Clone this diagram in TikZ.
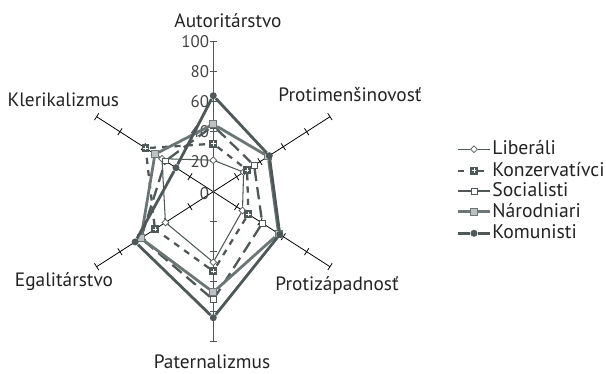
\documentclass[tikz,border=0pt]{standalone}
\usepackage{fontspec}
\setmainfont{PT Sans}
\usetikzlibrary{shapes.geometric, positioning, calc}
\definecolor{chartgray}{RGB}{78,88,88}
\definecolor{chartlight}{RGB}{108,118,118}
\definecolor{labeltext}{RGB}{35,35,35}

\begin{document}
\begin{tikzpicture}[
    x=0.02694cm, y=0.03cm,
    axisline/.style={black, line width=0.45pt},
    mainaxis/.style={chartgray, line width=0.9pt},
    tickmark/.style={black, line width=0.45pt},
    ticklabel/.style={font=\fontsize{9.6}{11}\selectfont, text=labeltext!85, anchor=east, inner sep=0.5pt},
    catlabel/.style={font=\fontsize{11}{13}\selectfont, text=labeltext, inner sep=0pt},
    legtext/.style={font=\fontsize{11.2}{13}\selectfont, text=labeltext, anchor=west, inner sep=0pt, text height=1.5ex, text depth=0.25ex},
    lib/.style={chartgray, line width=0.6pt},
    kon/.style={chartgray, line width=1.3pt, dash pattern=on 3.5pt off 3.5pt},
    soc/.style={chartgray, line width=1.3pt, dash pattern=on 7pt off 3.5pt},
    nar/.style={chartlight, line width=1.6pt},
    kom/.style={chartgray, line width=1.6pt},
    libmark/.style={diamond, draw=chartgray, fill=white, line width=0.4pt, inner sep=0pt, minimum size=4pt},
    konmark/.style={rectangle, fill=chartgray, inner sep=0pt, minimum size=4.4pt,
        path picture={\draw[white, line width=0.5pt]
            ([xshift=-1.3pt]path picture bounding box.center) -- ([xshift=1.3pt]path picture bounding box.center)
            ([yshift=-1.3pt]path picture bounding box.center) -- ([yshift=1.3pt]path picture bounding box.center);}},
    socmark/.style={rectangle, draw=chartgray, fill=white, line width=0.5pt, inner sep=0pt, minimum size=3.4pt},
    narmark/.style={rectangle, draw=chartlight, fill=chartlight!45, line width=0.6pt, inner sep=0pt, minimum size=3.8pt},
    kommark/.style={circle, fill=chartgray, inner sep=0pt, minimum size=4pt}
]
\useasboundingbox (-4.266cm,-3.646cm) rectangle (7.854cm,3.834cm);

% axes
\coordinate (O) at (0,0);
\coordinate (aut) at (90:100);
\coordinate (prm) at (30:100);
\coordinate (prz) at (-30:100);
\coordinate (pat) at (-90:100);
\coordinate (ega) at (210:100);
\coordinate (kle) at (150:100);
\draw[axisline] (O) -- (prm);
\draw[axisline] (O) -- (prz);
\draw[axisline] (O) -- (ega);
\draw[axisline] (O) -- (kle);
\draw[mainaxis] (pat) -- (aut);
\foreach \a in {30,-30,210,150}
  \foreach \v in {20,40,60,80,100}
    \draw[tickmark] ($(\a:\v)!0.08cm!90:(O)$) -- ($(\a:\v)!0.08cm!-90:(O)$);
\foreach \v in {20,40,60,80,100} {
  \draw[mainaxis] ([xshift=-0.07cm]90:\v) -- ([xshift=0.08cm]90:\v);
  \draw[mainaxis] ([xshift=-0.07cm]-90:\v) -- ([xshift=0.07cm]-90:\v);
}

% scale labels
\node[ticklabel] (t0) at ([xshift=-0.06cm]90:-1) {0};
\node[ticklabel] (t20) at ([xshift=-0.06cm]90:20) {20};
\node[ticklabel] (t40) at ([xshift=-0.06cm]90:40) {40};
\node[ticklabel] (t60) at ([xshift=-0.06cm]90:60) {60};
\node[ticklabel] (t80) at ([xshift=-0.06cm]90:80) {80};
\node[ticklabel] (t100) at ([xshift=-0.06cm]90:100) {100};

% category labels
\node[catlabel] (autlab) at (0.294cm,3.42cm) {Autoritárstvo};
\node[catlabel] (prmlab) at (2.734cm,1.934cm) {Protimenšinovosť};
\node[catlabel] (przlab) at (2.474cm,-1.866cm) {Protizápadnosť};
\node[catlabel] (patlab) at (-0.026cm,-3.406cm) {Paternalizmus};
\node[catlabel] (egalab) at (-2.986cm,-1.8cm) {Egalitárstvo};
\node[catlabel] (klelab) at (-3.0cm,1.834cm) {Klerikalizmus};

% Liberali
\node[libmark] (lib1) at (90:21) {};
\node[libmark] (lib2) at (30:26) {};
\node[libmark] (lib3) at (-30:25) {};
\node[libmark] (lib4) at (-90:47) {};
\node[libmark] (lib5) at (210:41) {};
\node[libmark] (lib6) at (150:44) {};
\draw[lib] (lib1) -- (lib2) -- (lib3) -- (lib4) -- (lib5) -- (lib6) -- (lib1);

% Konzervativci
\node[konmark] (kon1) at (90:32) {};
\node[konmark] (kon2) at (30:29) {};
\node[konmark] (kon3) at (-30:30) {};
\node[konmark] (kon4) at (-90:53) {};
\node[konmark] (kon5) at (210:50) {};
\node[konmark] (kon6) at (150:58) {};
\draw[kon] (kon1) -- (kon2) -- (kon3) -- (kon4) -- (kon5) -- (kon6) -- (kon1);

% Socialisti
\node[socmark] (soc1) at (90:44) {};
\node[socmark] (soc2) at (30:35) {};
\node[socmark] (soc3) at (-30:42) {};
\node[socmark] (soc4) at (-90:72) {};
\node[socmark] (soc5) at (210:62) {};
\node[socmark] (soc6) at (150:41) {};
\draw[soc] (soc1) -- (soc2) -- (soc3) -- (soc4) -- (soc5) -- (soc6) -- (soc1);

% Narodniari
\node[narmark] (nar1) at (90:45) {};
\node[narmark] (nar2) at (30:47) {};
\node[narmark] (nar3) at (-30:56) {};
\node[narmark] (nar4) at (-90:67) {};
\node[narmark] (nar5) at (210:62) {};
\node[narmark] (nar6) at (150:50) {};
\draw[nar] (nar1) -- (nar2) -- (nar3) -- (nar4) -- (nar5) -- (nar6) -- (nar1);

% Komunisti
\node[kommark] (kom1) at (90:64) {};
\node[kommark] (kom2) at (30:48) {};
\node[kommark] (kom3) at (-30:57) {};
\node[kommark] (kom4) at (-90:84) {};
\node[kommark] (kom5) at (210:67) {};
\node[kommark] (kom6) at (150:32) {};
\draw[kom] (kom1) -- (kom2) -- (kom3) -- (kom4) -- (kom5) -- (kom6) -- (kom1);

% legend
\node[libmark] (libkey) at (5.214cm,0.848cm) {};
\coordinate (libA) at (4.9cm,0.848cm);
\coordinate (libB) at (5.534cm,0.848cm);
\draw[lib] (libA) -- (libkey) -- (libB);
\node[legtext] (libtxt) at (5.574cm,0.848cm) {Liberáli};

\node[konmark] (konkey) at (5.214cm,0.42cm) {};
\coordinate (konA) at (4.9cm,0.42cm);
\coordinate (konB) at (5.534cm,0.42cm);
\draw[kon] (konA) -- (konkey) -- (konB);
\node[legtext] (kontxt) at (5.574cm,0.42cm) {Konzervatívci};

\node[socmark] (sockey) at (5.214cm,0.014cm) {};
\coordinate (socA) at (4.9cm,0.014cm);
\coordinate (socB) at (5.534cm,0.014cm);
\draw[soc] (socA) -- (sockey) -- (socB);
\node[legtext] (soctxt) at (5.574cm,0.014cm) {Socialisti};

\node[narmark] (narkey) at (5.214cm,-0.4cm) {};
\coordinate (narA) at (4.9cm,-0.4cm);
\coordinate (narB) at (5.534cm,-0.4cm);
\draw[nar] (narA) -- (narkey) -- (narB);
\node[legtext] (nartxt) at (5.574cm,-0.4cm) {Národniari};

\node[kommark] (komkey) at (5.214cm,-0.832cm) {};
\coordinate (komA) at (4.9cm,-0.832cm);
\coordinate (komB) at (5.534cm,-0.832cm);
\draw[kom] (komA) -- (komkey) -- (komB);
\node[legtext] (komtxt) at (5.574cm,-0.832cm) {Komunisti};
\end{tikzpicture}
\end{document}
